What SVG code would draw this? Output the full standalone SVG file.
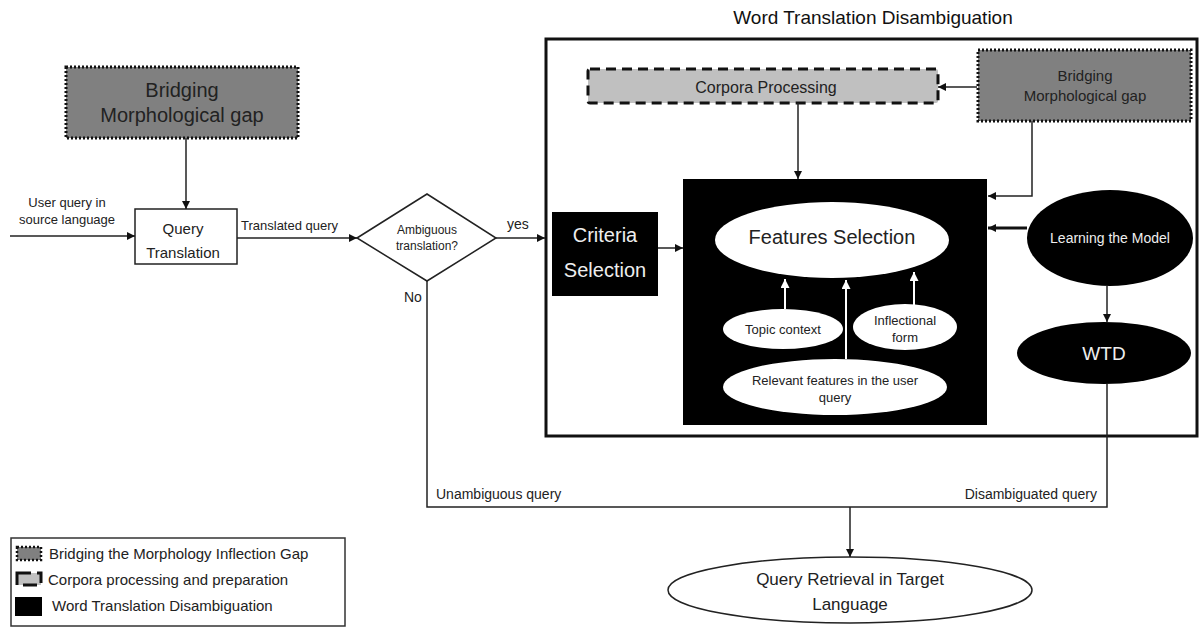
<svg xmlns="http://www.w3.org/2000/svg" width="1199" height="628" viewBox="0 0 1199 628">
  <style>
    text { font-family: "Liberation Sans", Arial, sans-serif; fill: #222; }
    .ln { stroke: #222; stroke-width: 1.5; fill: none; }
    .wl { stroke: #fff; stroke-width: 2; fill: none; }
    .bridge { fill: #808080; stroke: #111; stroke-width: 3; stroke-dasharray: 2 2; }
    .corp { fill: #c0c0c0; stroke: #111; stroke-width: 3; stroke-dasharray: 10 6; }
    .blk { fill: #000; }
    .wt { fill: #eee; }
  </style>
  <defs>
    <marker id="ah" viewBox="0 0 10 10" refX="10" refY="5" markerWidth="8" markerHeight="8" markerUnits="userSpaceOnUse" orient="auto">
      <path d="M0,0 L10,5 L0,10 z" fill="#111"/>
    </marker>
    <marker id="ahw" viewBox="0 0 10 10" refX="10" refY="5" markerWidth="9" markerHeight="9" markerUnits="userSpaceOnUse" orient="auto">
      <path d="M0,0 L10,5 L0,10 z" fill="#fff"/>
    </marker>
  </defs>

  <!-- title and frame of the disambiguation stage -->
  <text x="873" y="24" font-size="19" text-anchor="middle" style="fill:#111">Word Translation Disambiguation</text>
  <rect id="wtd-frame" x="546" y="39" width="651" height="397" fill="none" stroke="#111" stroke-width="3"/>

  <g id="bridging-left">
    <rect class="bridge" x="66" y="67" width="232" height="71"/>
    <text x="182" y="97" font-size="20" text-anchor="middle">Bridging</text>
    <text x="182" y="122" font-size="20" text-anchor="middle">Morphological gap</text>
  </g>

  <g id="query-translation">
    <rect x="135" y="209" width="102" height="55" fill="#fff" stroke="#222" stroke-width="1.5"/>
    <text x="183" y="234" font-size="15" text-anchor="middle">Query</text>
    <text x="183" y="258" font-size="15" text-anchor="middle">Translation</text>
  </g>

  <g id="ambiguous">
    <polygon points="357,238 427,194 496,238 427,281" fill="#fff" stroke="#222" stroke-width="1.5"/>
    <text x="427" y="234" font-size="12" text-anchor="middle">Ambiguous</text>
    <text x="427" y="250" font-size="12" text-anchor="middle">translation?</text>
  </g>

  <g id="corpora">
    <rect class="corp" x="588" y="69" width="350" height="34" rx="2"/>
    <text x="766" y="93" font-size="16" text-anchor="middle">Corpora Processing</text>
  </g>

  <g id="bridging-right">
    <rect class="bridge" x="978" y="50" width="213" height="71"/>
    <text x="1085" y="81" font-size="15" text-anchor="middle">Bridging</text>
    <text x="1085" y="101" font-size="15" text-anchor="middle">Morphological gap</text>
  </g>

  <g id="criteria">
    <rect class="blk" x="552" y="212" width="106" height="84"/>
    <text class="wt" x="605" y="242" font-size="20" text-anchor="middle">Criteria</text>
    <text class="wt" x="605" y="277" font-size="20" text-anchor="middle">Selection</text>
  </g>

  <g id="features">
    <rect class="blk" x="683" y="179" width="304" height="246"/>
    <ellipse cx="832" cy="240" rx="117" ry="38" fill="#fff"/>
    <text x="832" y="244" font-size="20" text-anchor="middle">Features Selection</text>
  </g>

  <g id="topic-context">
    <ellipse cx="783" cy="329" rx="60" ry="20" fill="#fff"/>
    <text x="783" y="334" font-size="13" text-anchor="middle">Topic context</text>
  </g>

  <g id="inflectional-form">
    <ellipse cx="905" cy="327" rx="52" ry="23" fill="#fff"/>
    <text x="905" y="325" font-size="13" text-anchor="middle">Inflectional</text>
    <text x="905" y="342" font-size="13" text-anchor="middle">form</text>
  </g>

  <g id="relevant-features">
    <ellipse cx="835" cy="387" rx="112" ry="28" fill="#fff"/>
    <text x="835" y="385" font-size="13" text-anchor="middle">Relevant features in the user</text>
    <text x="835" y="402" font-size="13" text-anchor="middle">query</text>
  </g>

  <g id="learning">
    <ellipse class="blk" cx="1110" cy="238" rx="83" ry="48"/>
    <text class="wt" x="1110" y="243" font-size="14" text-anchor="middle">Learning the Model</text>
  </g>

  <g id="wtd">
    <ellipse class="blk" cx="1104" cy="353" rx="87" ry="31"/>
    <text class="wt" x="1104" y="360" font-size="19" text-anchor="middle">WTD</text>
  </g>

  <g id="retrieval">
    <ellipse cx="850" cy="590" rx="182" ry="33" fill="#fff" stroke="#222" stroke-width="1.5"/>
    <text x="850" y="585" font-size="17" text-anchor="middle">Query Retrieval in Target</text>
    <text x="850" y="610" font-size="17" text-anchor="middle">Language</text>
  </g>

  <!-- connectors, drawn above the black boxes so the white feature arrows show -->
  <g id="connectors">
    <line class="ln" x1="186" y1="138" x2="186" y2="209" marker-end="url(#ah)"/>
    <line class="ln" x1="10" y1="236" x2="135" y2="236" marker-end="url(#ah)"/>
    <line class="ln" x1="237" y1="238" x2="357" y2="238" marker-end="url(#ah)"/>
    <line class="ln" x1="496" y1="238" x2="545" y2="238" marker-end="url(#ah)"/>
    <line class="ln" x1="977" y1="87" x2="938" y2="87" marker-end="url(#ah)"/>
    <polyline class="ln" points="1032,121 1032,196 988,196" marker-end="url(#ah)"/>
    <line class="ln" x1="798" y1="103" x2="798" y2="179" marker-end="url(#ah)"/>
    <line class="ln" x1="658" y1="248" x2="683" y2="248" marker-end="url(#ah)"/>
    <line stroke="#111" stroke-width="3" x1="1027" y1="228" x2="988" y2="228" marker-end="url(#ah)"/>
    <line class="ln" x1="1107" y1="286" x2="1107" y2="322" marker-end="url(#ah)"/>
    <polyline class="ln" points="427,281 427,507 1107,507 1107,384"/>
    <line class="ln" x1="850" y1="507" x2="850" y2="557" marker-end="url(#ah)"/>
    <line class="wl" x1="785" y1="309" x2="785" y2="279" marker-end="url(#ahw)"/>
    <line class="wl" x1="846" y1="359" x2="846" y2="280" marker-end="url(#ahw)"/>
    <line class="wl" x1="914" y1="305" x2="914" y2="272" marker-end="url(#ahw)"/>
  </g>

  <!-- connector labels -->
  <g id="labels">
    <text x="67" y="207" text-anchor="middle" font-size="13">User query in</text>
    <text x="67" y="224" text-anchor="middle" font-size="13">source language</text>
    <text x="241" y="230" font-size="13">Translated query</text>
    <text x="507" y="229" font-size="14">yes</text>
    <text x="404" y="302" font-size="14">No</text>
    <text x="436" y="499" font-size="14">Unambiguous query</text>
    <text x="1097" y="499" text-anchor="end" font-size="14">Disambiguated query</text>
  </g>

  <g id="legend">
    <rect x="11" y="538" width="334" height="88" fill="#fff" stroke="#333" stroke-width="1.5"/>
    <rect class="bridge" x="17" y="547" width="24" height="13" style="stroke-width:2.5"/>
    <text x="49" y="559" font-size="15">Bridging the Morphology Inflection Gap</text>
    <rect class="corp" x="17" y="573" width="24" height="12" style="stroke-dasharray:14 6"/>
    <text x="48" y="585" font-size="15">Corpora processing and preparation</text>
    <rect class="blk" x="15" y="597" width="27" height="19"/>
    <text x="52" y="611" font-size="15">Word Translation Disambiguation</text>
  </g>
</svg>
